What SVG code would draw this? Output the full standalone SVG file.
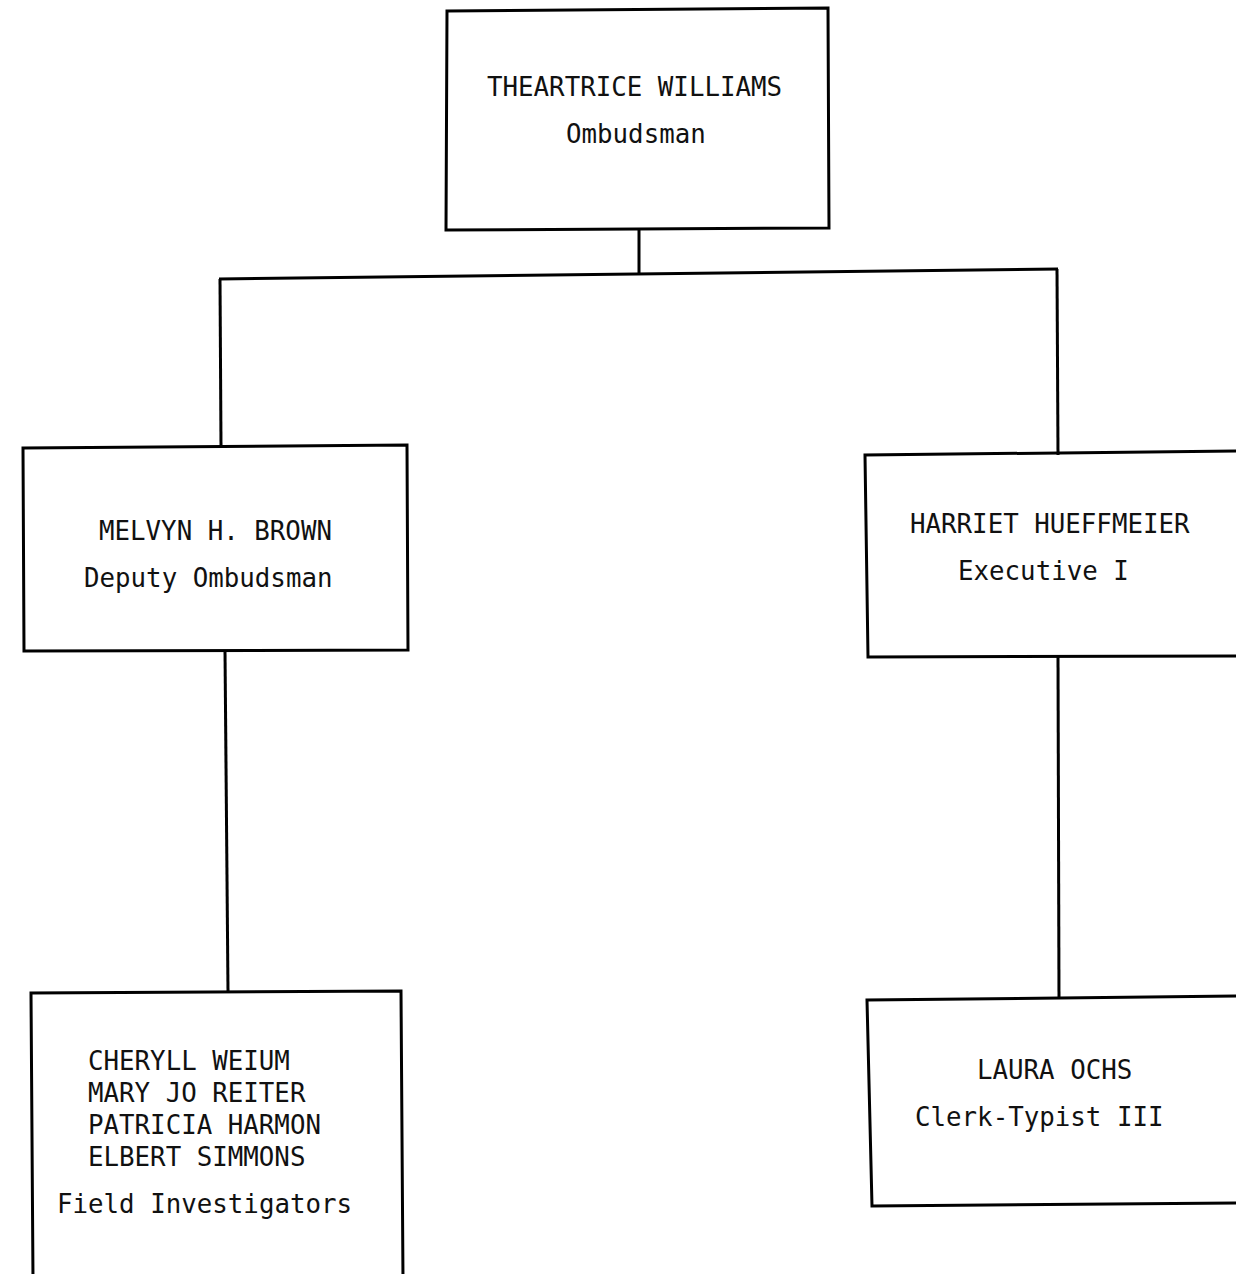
<svg xmlns="http://www.w3.org/2000/svg" width="1236" height="1274" viewBox="0 0 1236 1274">
<style>
.box{fill:none;stroke:#000;stroke-width:3;stroke-linejoin:miter}
.ln{fill:none;stroke:#000;stroke-width:3}
text{font-family:"DejaVu Sans Mono","Liberation Mono",monospace;font-size:25.8px;fill:#111}
</style>
<rect width="1236" height="1274" fill="#fff"/>
<g id="connectors">
<path class="ln" d="M639 229 L639 274"/>
<path class="ln" d="M219 279 L1058 269"/>
<path class="ln" d="M220 279 L221 447"/>
<path class="ln" d="M1057 269 L1058 455"/>
<path class="ln" d="M225 651 L228 991"/>
<path class="ln" d="M1058 657 L1059 999"/>
</g>
<g id="ombudsman">
<polygon class="box" points="447,11 828,8 829,228 446,230"/>
<text x="487" y="96">THEARTRICE WILLIAMS</text>
<text x="566" y="143">Ombudsman</text>
</g>
<g id="deputy">
<polygon class="box" points="23,448 407,445 408,650 24,651"/>
<text x="99" y="540">MELVYN H. BROWN</text>
<text x="84" y="587">Deputy Ombudsman</text>
</g>
<g id="executive">
<polyline class="box" points="1240,451 865,455 868,657 1240,656"/>
<text x="910" y="533">HARRIET HUEFFMEIER</text>
<text x="958" y="580">Executive I</text>
</g>
<g id="investigators">
<polyline class="box" points="33,1280 31,993 401,991 403,1280"/>
<text x="88" y="1070">CHERYLL WEIUM</text>
<text x="88" y="1102">MARY JO REITER</text>
<text x="88" y="1134">PATRICIA HARMON</text>
<text x="88" y="1166">ELBERT SIMMONS</text>
<text x="57" y="1213">Field Investigators</text>
</g>
<g id="clerk">
<polyline class="box" points="1240,996 867,1000 872,1206 1240,1203"/>
<text x="977" y="1079">LAURA OCHS</text>
<text x="915" y="1126">Clerk-Typist III</text>
</g>
</svg>
